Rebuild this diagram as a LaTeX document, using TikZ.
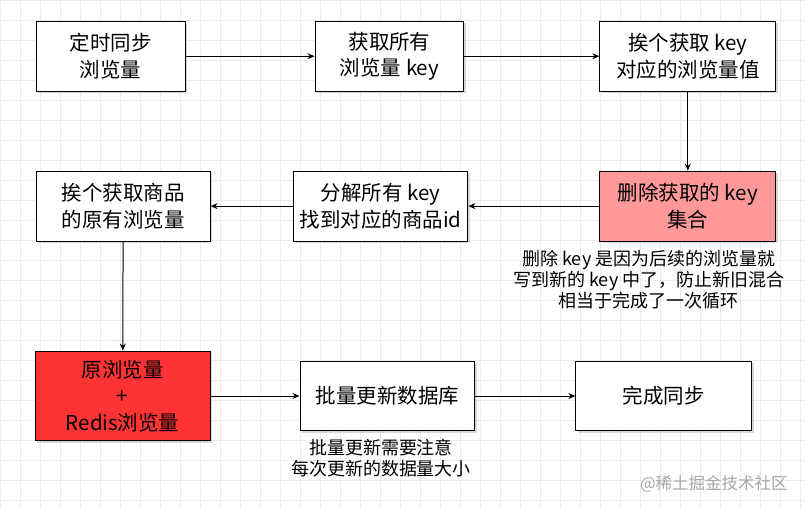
\documentclass[tikz,border=0pt]{standalone}
\usepackage{fontspec}
\setmainfont{Noto Sans CJK SC}
\usetikzlibrary{arrows.meta,shadows}
\definecolor{delpink}{HTML}{FF9999}
\definecolor{sumred}{HTML}{FF3333}

\begin{document}
\begin{tikzpicture}[x=1pt,y=-1pt,
	box/.style={draw=black, line width=1pt, fill=white, inner sep=0pt, align=center,
		minimum width=175pt, minimum height=70pt,
		font=\fontsize{20.5}{26.5}\selectfont,
		drop shadow={shadow xshift=2pt, shadow yshift=-2pt, opacity=0.3, fill=gray}},
	note/.style={align=center, font=\fontsize{18}{21}\selectfont},
	flow/.style={-{Stealth[length=7pt,width=6pt]}, line width=1pt}]
		\fill[white] (0,0) rectangle (805,509);
		\foreach \gx in {0,20,...,800}
			\draw[black!8, line width=0.5pt] (\gx,0) -- (\gx,509);
		\foreach \gy in {0,20,...,500}
			\draw[black!8, line width=0.5pt] (0,\gy) -- (805,\gy);
		\useasboundingbox (0,0) rectangle (805,509);
		
		\node[box, minimum width=149pt] (sync) at (110.5,56) {定时同步\\浏览量};
		\node[box, minimum width=149pt] (keys) at (389.5,56) {获取所有\\浏览量 key};
		\node[box, minimum width=176pt] (each) at (688,56) {挨个获取 key\\对应的浏览量值};
		\node[box, minimum width=176pt, fill=delpink] (del) at (688,206) {删除获取的 key\\集合};
		\node[box] (split) at (380.5,206) {分解所有 key\\找到对应的商品id};
		\node[box, minimum width=174pt] (orig) at (123,206) {挨个获取商品\\的原有浏览量};
		\node[box, minimum height=90pt, fill=sumred] (sum) at (122.5,396) {原浏览量\\+\\Redis浏览量};
		\node[box] (batch) at (387.5,396) {批量更新数据库};
		\node[box, minimum width=176pt] (done) at (664,396) {完成同步};
		
		\node[note] (delnote) at (649,280) {删除 key 是因为后续的浏览量就\\写到新的 key 中了，防止新旧混合\\相当于完成了一次循环};
		\node[note] (batchnote) at (381,458) {批量更新需要注意\\每次更新的数据量大小};
		\node[text=black!35, font=\fontsize{16.5}{18}\selectfont] (mark) at (714,484) {@稀土掘金技术社区};
		
		\draw[flow] (sync) -- (keys);
		\draw[flow] (keys) -- (each);
		\draw[flow] (each) -- (del);
		\draw[flow] (del) -- (split);
		\draw[flow] (split) -- (orig);
		\draw[flow] (orig) -- (sum);
		\draw[flow] (sum) -- (batch);
		\draw[flow] (batch) -- (done);
\end{tikzpicture}
\end{document}
